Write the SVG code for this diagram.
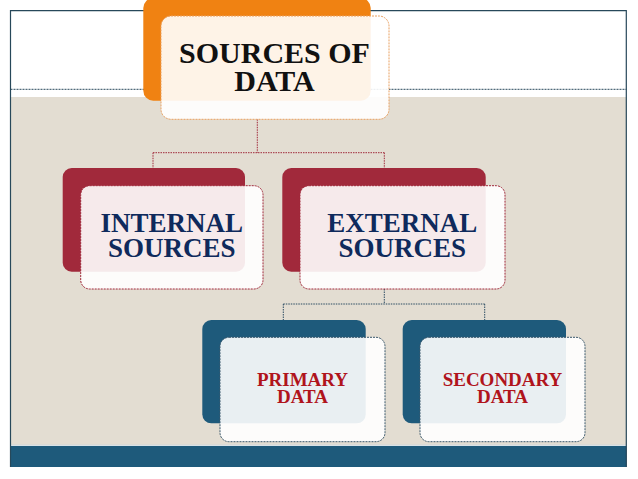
<svg xmlns="http://www.w3.org/2000/svg" width="638" height="479" viewBox="0 0 638 479">
<style>
.frame{fill:none;stroke:#27485a;stroke-width:1.2}
.back-o{fill:#f08212}
.back-r{fill:#a1293b}
.back-b{fill:#1e5a7b}
.face{fill:#ffffff;fill-opacity:0.9;stroke-width:1;stroke-dasharray:2 1}
.face-o{stroke:#e9a060}
.face-r{stroke:#a1293b}
.face-b{stroke:#3a586c}
.t{font-family:"Liberation Serif","Times New Roman",serif;font-weight:bold;text-anchor:middle}
.t-root{font-size:30px;fill:#111111}
.t-mid{font-size:27px;fill:#0f2a5c}
.t-low{font-size:19px;fill:#b0141c}
.conn{fill:none;stroke-width:1;stroke-dasharray:1.5 1}
.conn-r{stroke:#a1293b}
.conn-b{stroke:#2c4c62}
</style>
<rect x="0" y="0" width="638" height="479" fill="#ffffff"/>
<g id="background">
<rect x="11" y="97" width="615.5" height="348" fill="#e3ddd2"/>
<line x1="10.5" y1="89.3" x2="626.5" y2="89.3" stroke="#27485a" stroke-width="1" stroke-dasharray="2 1"/>
<rect x="10.5" y="446" width="616" height="21" fill="#1e5a7b"/>
<line x1="11" y1="445.2" x2="626" y2="445.2" stroke="#c9d5dd" stroke-width="1"/>
<path class="frame" d="M10.5 467 V10.7 H626.3 V467"/>
</g>
<g id="connectors">
<path class="conn conn-r" d="M257.3 119.3 V152.7 M153 152.7 H384.3 M153 152.7 V168 M384.3 152.7 V168"/>
<path class="conn conn-b" d="M384.3 289 V304 M283.3 304 H484.7 M283.3 304 V320 M484.7 304 V320"/>
</g>
<g id="node-sources-of-data">
<rect class="back-o" x="143.3" y="-2" width="227.4" height="102.7" rx="10"/>
<rect class="face face-o" x="161" y="16" width="228" height="103.3" rx="10"/>
<text class="t t-root" x="274.5" y="63.3">SOURCES OF</text>
<text class="t t-root" x="274.5" y="90.7">DATA</text>
</g>
<g id="node-internal-sources">
<rect class="back-r" x="62.7" y="168" width="182.3" height="103.7" rx="9"/>
<rect class="face face-r" x="80.7" y="185.7" width="182.3" height="103.3" rx="9"/>
<text class="t t-mid" x="171.8" y="232">INTERNAL</text>
<text class="t t-mid" x="171.8" y="256.7">SOURCES</text>
</g>
<g id="node-external-sources">
<rect class="back-r" x="282.3" y="168" width="203.4" height="103.7" rx="9"/>
<rect class="face face-r" x="300" y="185.7" width="205" height="103.3" rx="9"/>
<text class="t t-mid" x="402.3" y="232">EXTERNAL</text>
<text class="t t-mid" x="402.3" y="256.7">SOURCES</text>
</g>
<g id="node-primary-data">
<rect class="back-b" x="202.3" y="320" width="163.4" height="103.3" rx="9"/>
<rect class="face face-b" x="220" y="337.3" width="165" height="104.4" rx="9"/>
<text class="t t-low" x="302.5" y="385.7">PRIMARY</text>
<text class="t t-low" x="302.5" y="402.7">DATA</text>
</g>
<g id="node-secondary-data">
<rect class="back-b" x="402.7" y="320" width="163.3" height="103.3" rx="9"/>
<rect class="face face-b" x="420" y="337.3" width="165" height="104.4" rx="9"/>
<text class="t t-low" x="502.5" y="385.7">SECONDARY</text>
<text class="t t-low" x="502.5" y="402.7">DATA</text>
</g>
</svg>
